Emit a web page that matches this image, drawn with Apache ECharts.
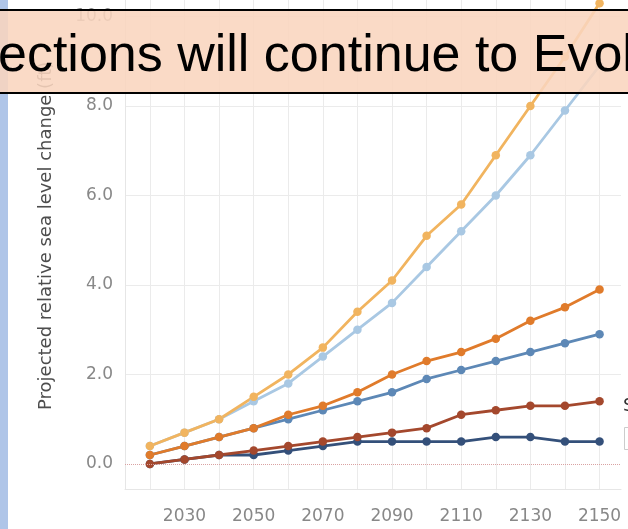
<!DOCTYPE html>
<html>
<head>
<meta charset="utf-8">
<script src="https://cdn.jsdelivr.net/npm/echarts@6.0.0/dist/echarts.min.js"></script>
<style>
  html, body { margin: 0; padding: 0; background: #fff; }
  #chart { width: 628px; height: 529px; }
</style>
</head>
<body>
<div id="chart"></div>
<script>
// Projection years (one point per decade)
const years = [2020, 2030, 2040, 2050, 2060, 2070, 2080, 2090, 2100, 2110, 2120, 2130, 2140, 2150];

// Relative sea level change per scenario (ft)
const extremeValues      = [0.4, 0.7, 1.0, 1.5, 2.0, 2.6, 3.4, 4.1, 5.1, 5.8, 6.9, 8.0, 9.1, 10.3];
const highValues         = [0.4, 0.7, 1.0, 1.4, 1.8, 2.4, 3.0, 3.6, 4.4, 5.2, 6.0, 6.9, 7.9, 8.9];
const intHighValues      = [0.2, 0.4, 0.6, 0.8, 1.1, 1.3, 1.6, 2.0, 2.3, 2.5, 2.8, 3.2, 3.5, 3.9];
const intermediateValues = [0.2, 0.4, 0.6, 0.8, 1.0, 1.2, 1.4, 1.6, 1.9, 2.1, 2.3, 2.5, 2.7, 2.9];
const intLowValues       = [0.0, 0.1, 0.2, 0.3, 0.4, 0.5, 0.6, 0.7, 0.8, 1.1, 1.2, 1.3, 1.3, 1.4];
const lowValues          = [0.0, 0.1, 0.2, 0.2, 0.3, 0.4, 0.5, 0.5, 0.5, 0.5, 0.6, 0.6, 0.5, 0.5];

// Axis ticks
const xGridYears  = years;
const xLabelYears = [2030, 2050, 2070, 2090, 2110, 2130, 2150];
const yLabelTicks = [0, 2, 4, 6, 8, 10];
const yGridTicks  = [2, 4, 6, 8, 10];

const yTitle = 'Projected relative sea level change (ft)';
const bannerText = 'ections will continue to Evol';

const scenarios = [
  { name: 'Low',               values: lowValues,          color: '#34507a' },
  { name: 'Intermediate-Low',  values: intLowValues,       color: '#a4482d' },
  { name: 'Intermediate',      values: intermediateValues, color: '#5d88b6' },
  { name: 'Intermediate-High', values: intHighValues,      color: '#e07b2b' },
  { name: 'High',              values: highValues,         color: '#a9c8e3' },
  { name: 'Extreme',           values: extremeValues,      color: '#f1b45f' }
];

const chart = echarts.init(document.getElementById('chart'), null, { renderer: 'canvas' });

const series = scenarios.map((s, i) => ({
  name: s.name,
  type: 'line',
  data: years.map((y, k) => [y, s.values[k]]),
  symbol: 'circle',
  symbolSize: 8.5,
  showSymbol: true,
  lineStyle: { color: s.color, width: 2.8 },
  itemStyle: { color: s.color },
  emphasis: { disabled: true },
  markLine: i === 0 ? {
    silent: true,
    symbol: ['none', 'none'],
    label: { show: false },
    lineStyle: { type: 'dotted', color: '#d9a2a2', width: 1 },
    data: [{ yAxis: 0 }]
  } : undefined
}));

chart.setOption({
  animation: false,
  backgroundColor: '#ffffff',
  grid: { left: 125, right: 7, top: 0, bottom: 40, containLabel: false, outerBoundsMode: 'none' },
  xAxis: {
    type: 'value',
    min: 2012.8,
    max: 2156.2,
    axisLine: { show: true, onZero: false, lineStyle: { color: '#e6e6e6', width: 1 } },
    axisTick: { show: false, customValues: xGridYears },
    splitLine: { show: true, lineStyle: { color: '#ebebeb', width: 1 } },
    axisLabel: {
      customValues: xLabelYears,
      formatter: v => String(v),
      color: '#888888',
      fontFamily: 'DejaVu Sans',
      fontSize: 17,
      margin: 19
    }
  },
  yAxis: {
    type: 'value',
    min: -0.56,
    max: 10.37,
    axisLine: { show: true, onZero: false, lineStyle: { color: '#e6e6e6', width: 1 } },
    axisTick: { show: false, customValues: yGridTicks },
    splitLine: { show: true, lineStyle: { color: '#ebebeb', width: 1 } },
    axisLabel: {
      customValues: yLabelTicks,
      formatter: v => v.toFixed(1),
      color: '#888888',
      fontFamily: 'DejaVu Sans',
      fontSize: 17,
      margin: 12
    }
  },
  series: series,
  graphic: [
    {
      type: 'text',
      x: 46, y: 410,
      rotation: Math.PI / 2,
      style: {
        text: yTitle,
        x: 0, y: 0,
        align: 'left',
        verticalAlign: 'middle',
        fill: '#4d4d4d',
        font: '18px "DejaVu Sans"'
      },
      z: 10
    },
    {
      type: 'text',
      x: 623, y: 406,
      style: {
        text: 'Scenario',
        align: 'left',
        verticalAlign: 'middle',
        fill: '#333333',
        font: '18px "DejaVu Sans"'
      },
      z: 10
    },
    {
      type: 'rect',
      shape: { x: 624.5, y: 427.5, width: 80, height: 22 },
      style: { fill: '#ffffff', stroke: '#cccccc', lineWidth: 1 },
      z: 10
    },
    {
      type: 'rect',
      shape: { x: 0, y: 0, width: 8, height: 529 },
      style: { fill: '#afc5e8' },
      z: 20
    },
    {
      type: 'rect',
      shape: { x: -10, y: 10, width: 660, height: 83 },
      style: { fill: 'rgba(249,213,190,0.88)', stroke: '#000000', lineWidth: 2 },
      z: 30
    },
    {
      type: 'text',
      x: -2, y: 57,
      style: {
        text: bannerText,
        align: 'left',
        verticalAlign: 'middle',
        fill: '#000000',
        font: '52px "Liberation Sans"'
      },
      z: 31
    }
  ]
});
</script>
</body>
</html>
